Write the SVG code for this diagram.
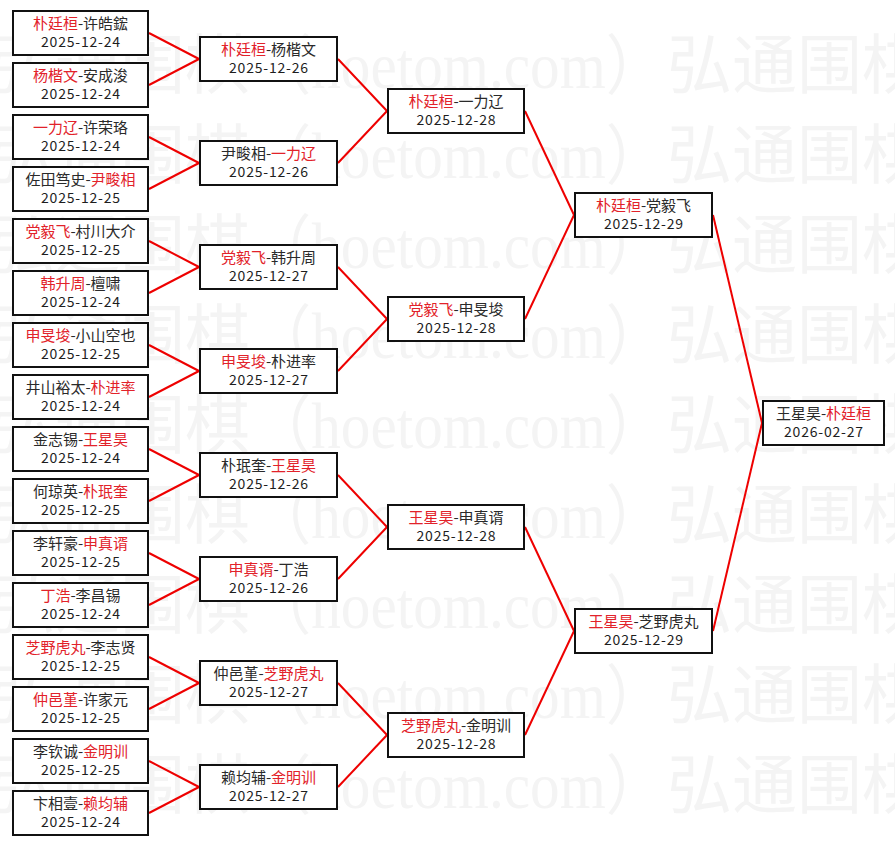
<svg xmlns="http://www.w3.org/2000/svg" xmlns:xlink="http://www.w3.org/1999/xlink" width="895" height="845" viewBox="0 0 895 845">
<style>
.wm{font-family:"Liberation Serif","Noto Sans CJK SC",serif;font-size:65px;fill:#f4f4f4}
.box{fill:#ffffff;stroke:#111111;stroke-width:2}
.n{font-family:"Noto Sans CJK SC","Noto Sans CJK TC",sans-serif;font-size:15px;fill:#2a2a2a;text-anchor:middle}
.r{fill:#e2222a}
.d{font-family:"Noto Sans CJK SC","Noto Sans",sans-serif;font-size:14px;fill:#1e1e1e;text-anchor:middle}
.c line{stroke:#ee0000;stroke-width:2;fill:none}
</style>
<defs>
<g id="wmrow">
<text class="wm" x="-10" y="0" textLength="260" lengthAdjust="spacingAndGlyphs">弘通围棋</text>
<text class="wm" x="252" y="0" textLength="413" lengthAdjust="spacingAndGlyphs">（hoetom.com）</text>
<text class="wm" x="667" y="0" textLength="260" lengthAdjust="spacingAndGlyphs">弘通围棋</text>
</g>
</defs>
<rect x="0" y="0" width="895" height="845" fill="#ffffff"/>
<g id="watermark">
<use xlink:href="#wmrow" transform="translate(0,88)"/>
<use xlink:href="#wmrow" transform="translate(0,178)"/>
<use xlink:href="#wmrow" transform="translate(0,268)"/>
<use xlink:href="#wmrow" transform="translate(0,358)"/>
<use xlink:href="#wmrow" transform="translate(0,448)"/>
<use xlink:href="#wmrow" transform="translate(0,538)"/>
<use xlink:href="#wmrow" transform="translate(0,628)"/>
<use xlink:href="#wmrow" transform="translate(0,718)"/>
<use xlink:href="#wmrow" transform="translate(0,808)"/>
</g>
<g id="connectors" class="c">
<line x1="149" y1="33" x2="199" y2="59"/><line x1="149" y1="85" x2="199" y2="59"/>
<line x1="149" y1="137" x2="199" y2="163"/><line x1="149" y1="189" x2="199" y2="163"/>
<line x1="149" y1="241" x2="199" y2="267"/><line x1="149" y1="293" x2="199" y2="267"/>
<line x1="149" y1="345" x2="199" y2="371"/><line x1="149" y1="397" x2="199" y2="371"/>
<line x1="149" y1="449" x2="199" y2="475"/><line x1="149" y1="501" x2="199" y2="475"/>
<line x1="149" y1="553" x2="199" y2="579"/><line x1="149" y1="605" x2="199" y2="579"/>
<line x1="149" y1="657" x2="199" y2="683"/><line x1="149" y1="709" x2="199" y2="683"/>
<line x1="149" y1="761" x2="199" y2="787"/><line x1="149" y1="813" x2="199" y2="787"/>
<line x1="338" y1="59" x2="387" y2="111"/><line x1="338" y1="163" x2="387" y2="111"/>
<line x1="338" y1="267" x2="387" y2="319"/><line x1="338" y1="371" x2="387" y2="319"/>
<line x1="338" y1="475" x2="387" y2="527"/><line x1="338" y1="579" x2="387" y2="527"/>
<line x1="338" y1="683" x2="387" y2="735"/><line x1="338" y1="787" x2="387" y2="735"/>
<line x1="525" y1="111" x2="574" y2="215"/><line x1="525" y1="319" x2="574" y2="215"/>
<line x1="525" y1="527" x2="574" y2="631"/><line x1="525" y1="735" x2="574" y2="631"/>
<line x1="713" y1="215" x2="762" y2="423"/><line x1="713" y1="631" x2="762" y2="423"/>
</g>
<g id="r1-1"><rect class="box" x="13" y="11" width="135" height="44"/><text class="n" x="80.5" y="29"><tspan class="r">朴廷桓</tspan>-许皓鋐</text><text class="d" x="80.5" y="47" textLength="79">2025-12-24</text></g>
<g id="r1-2"><rect class="box" x="13" y="63" width="135" height="44"/><text class="n" x="80.5" y="81"><tspan class="r">杨楷文</tspan>-安成浚</text><text class="d" x="80.5" y="99" textLength="79">2025-12-24</text></g>
<g id="r1-3"><rect class="box" x="13" y="115" width="135" height="44"/><text class="n" x="80.5" y="133"><tspan class="r">一力辽</tspan>-许荣珞</text><text class="d" x="80.5" y="151" textLength="79">2025-12-24</text></g>
<g id="r1-4"><rect class="box" x="13" y="167" width="135" height="44"/><text class="n" x="80.5" y="185">佐田笃史-<tspan class="r">尹畯相</tspan></text><text class="d" x="80.5" y="203" textLength="79">2025-12-25</text></g>
<g id="r1-5"><rect class="box" x="13" y="219" width="135" height="44"/><text class="n" x="80.5" y="237"><tspan class="r">党毅飞</tspan>-村川大介</text><text class="d" x="80.5" y="255" textLength="79">2025-12-25</text></g>
<g id="r1-6"><rect class="box" x="13" y="271" width="135" height="44"/><text class="n" x="80.5" y="289"><tspan class="r">韩升周</tspan>-檀啸</text><text class="d" x="80.5" y="307" textLength="79">2025-12-24</text></g>
<g id="r1-7"><rect class="box" x="13" y="323" width="135" height="44"/><text class="n" x="80.5" y="341"><tspan class="r">申旻埈</tspan>-小山空也</text><text class="d" x="80.5" y="359" textLength="79">2025-12-25</text></g>
<g id="r1-8"><rect class="box" x="13" y="375" width="135" height="44"/><text class="n" x="80.5" y="393">井山裕太-<tspan class="r">朴进率</tspan></text><text class="d" x="80.5" y="411" textLength="79">2025-12-24</text></g>
<g id="r1-9"><rect class="box" x="13" y="427" width="135" height="44"/><text class="n" x="80.5" y="445">金志锡-<tspan class="r">王星昊</tspan></text><text class="d" x="80.5" y="463" textLength="79">2025-12-24</text></g>
<g id="r1-10"><rect class="box" x="13" y="479" width="135" height="44"/><text class="n" x="80.5" y="497">何琼英-<tspan class="r">朴珉奎</tspan></text><text class="d" x="80.5" y="515" textLength="79">2025-12-25</text></g>
<g id="r1-11"><rect class="box" x="13" y="531" width="135" height="44"/><text class="n" x="80.5" y="549">李轩豪-<tspan class="r">申真谞</tspan></text><text class="d" x="80.5" y="567" textLength="79">2025-12-25</text></g>
<g id="r1-12"><rect class="box" x="13" y="583" width="135" height="44"/><text class="n" x="80.5" y="601"><tspan class="r">丁浩</tspan>-李昌锡</text><text class="d" x="80.5" y="619" textLength="79">2025-12-24</text></g>
<g id="r1-13"><rect class="box" x="13" y="635" width="135" height="44"/><text class="n" x="80.5" y="653"><tspan class="r">芝野虎丸</tspan>-李志贤</text><text class="d" x="80.5" y="671" textLength="79">2025-12-25</text></g>
<g id="r1-14"><rect class="box" x="13" y="687" width="135" height="44"/><text class="n" x="80.5" y="705"><tspan class="r">仲邑堇</tspan>-许家元</text><text class="d" x="80.5" y="723" textLength="79">2025-12-25</text></g>
<g id="r1-15"><rect class="box" x="13" y="739" width="135" height="44"/><text class="n" x="80.5" y="757">李钦诚-<tspan class="r">金明训</tspan></text><text class="d" x="80.5" y="775" textLength="79">2025-12-25</text></g>
<g id="r1-16"><rect class="box" x="13" y="791" width="135" height="44"/><text class="n" x="80.5" y="809">卞相壹-<tspan class="r">赖均辅</tspan></text><text class="d" x="80.5" y="827" textLength="79">2025-12-24</text></g>
<g id="r2-1"><rect class="box" x="200" y="37" width="137" height="44"/><text class="n" x="268.5" y="55"><tspan class="r">朴廷桓</tspan>-杨楷文</text><text class="d" x="268.5" y="73" textLength="79">2025-12-26</text></g>
<g id="r2-2"><rect class="box" x="200" y="141" width="137" height="44"/><text class="n" x="268.5" y="159">尹畯相-<tspan class="r">一力辽</tspan></text><text class="d" x="268.5" y="177" textLength="79">2025-12-26</text></g>
<g id="r2-3"><rect class="box" x="200" y="245" width="137" height="44"/><text class="n" x="268.5" y="263"><tspan class="r">党毅飞</tspan>-韩升周</text><text class="d" x="268.5" y="281" textLength="79">2025-12-27</text></g>
<g id="r2-4"><rect class="box" x="200" y="349" width="137" height="44"/><text class="n" x="268.5" y="367"><tspan class="r">申旻埈</tspan>-朴进率</text><text class="d" x="268.5" y="385" textLength="79">2025-12-27</text></g>
<g id="r2-5"><rect class="box" x="200" y="453" width="137" height="44"/><text class="n" x="268.5" y="471">朴珉奎-<tspan class="r">王星昊</tspan></text><text class="d" x="268.5" y="489" textLength="79">2025-12-26</text></g>
<g id="r2-6"><rect class="box" x="200" y="557" width="137" height="44"/><text class="n" x="268.5" y="575"><tspan class="r">申真谞</tspan>-丁浩</text><text class="d" x="268.5" y="593" textLength="79">2025-12-26</text></g>
<g id="r2-7"><rect class="box" x="200" y="661" width="137" height="44"/><text class="n" x="268.5" y="679">仲邑堇-<tspan class="r">芝野虎丸</tspan></text><text class="d" x="268.5" y="697" textLength="79">2025-12-27</text></g>
<g id="r2-8"><rect class="box" x="200" y="765" width="137" height="44"/><text class="n" x="268.5" y="783">赖均辅-<tspan class="r">金明训</tspan></text><text class="d" x="268.5" y="801" textLength="79">2025-12-27</text></g>
<g id="r3-1"><rect class="box" x="388" y="89" width="136" height="44"/><text class="n" x="456" y="107"><tspan class="r">朴廷桓</tspan>-一力辽</text><text class="d" x="456" y="125" textLength="79">2025-12-28</text></g>
<g id="r3-2"><rect class="box" x="388" y="297" width="136" height="44"/><text class="n" x="456" y="315"><tspan class="r">党毅飞</tspan>-申旻埈</text><text class="d" x="456" y="333" textLength="79">2025-12-28</text></g>
<g id="r3-3"><rect class="box" x="388" y="505" width="136" height="44"/><text class="n" x="456" y="523"><tspan class="r">王星昊</tspan>-申真谞</text><text class="d" x="456" y="541" textLength="79">2025-12-28</text></g>
<g id="r3-4"><rect class="box" x="388" y="713" width="136" height="44"/><text class="n" x="456" y="731"><tspan class="r">芝野虎丸</tspan>-金明训</text><text class="d" x="456" y="749" textLength="79">2025-12-28</text></g>
<g id="sf-1"><rect class="box" x="575" y="193" width="137" height="44"/><text class="n" x="643.5" y="211"><tspan class="r">朴廷桓</tspan>-党毅飞</text><text class="d" x="643.5" y="229" textLength="79">2025-12-29</text></g>
<g id="sf-2"><rect class="box" x="575" y="609" width="137" height="44"/><text class="n" x="643.5" y="627"><tspan class="r">王星昊</tspan>-芝野虎丸</text><text class="d" x="643.5" y="645" textLength="79">2025-12-29</text></g>
<g id="final"><rect class="box" x="763" y="401" width="121" height="44"/><text class="n" x="823.5" y="419">王星昊-<tspan class="r">朴廷桓</tspan></text><text class="d" x="823.5" y="437" textLength="79">2026-02-27</text></g>
</svg>
